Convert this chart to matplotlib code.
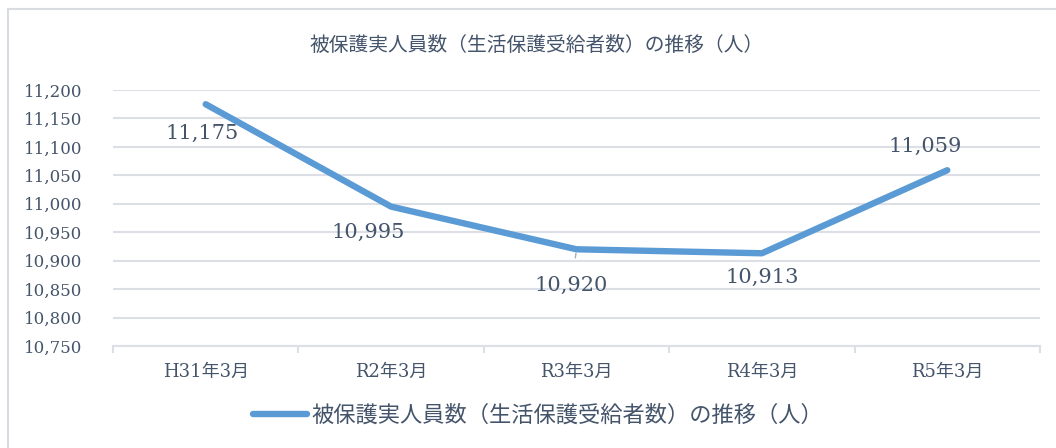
import matplotlib.pyplot as plt
from matplotlib.patches import Rectangle
from matplotlib.ticker import FuncFormatter, FixedLocator

months = ['H31年3月', 'R2年3月', 'R3年3月', 'R4年3月', 'R5年3月']
recipients = [11175, 10995, 10920, 10913, 11059]
label_offsets = [(-4, -29), (-23, -26), (-5, -36), (0, -24), (-22, 24)]
title = '被保護実人員数（生活保護受給者数）の推移（人）'

W, H = 1056, 448
line_color = '#5B9BD5'
text_color = '#44546A'
grid_color = '#DCE0E6'
serif_jp = ['DejaVu Serif', 'Noto Sans CJK JP']
sans_jp = ['Noto Sans CJK JP', 'DejaVu Sans']

fig = plt.figure(figsize=(W / 100, H / 100), dpi=100)
fig.patch.set_facecolor('white')

# chart frame (runs off the right and bottom edges)
fig.patches.append(Rectangle((8 / W, -0.1), 1.2, 1 - 9 / H + 0.1, transform=fig.transFigure,
                             fill=False, edgecolor='#D9DCE1', linewidth=1.5))

ax = fig.add_axes([113 / W, (H - 346) / H, 927 / W, 256 / H])
x = list(range(len(months)))
ax.plot(x, recipients, color=line_color, linewidth=4.6, solid_capstyle='round',
        solid_joinstyle='round', label=title, zorder=3)

ax.set_xlim(-0.5, len(months) - 0.5)
ax.set_ylim(10750, 11200)
ax.set_yticks(range(10750, 11201, 50))
ax.yaxis.set_major_formatter(FuncFormatter(lambda v, p: f'{int(v):,}'))
ax.grid(axis='y', color=grid_color, linewidth=1.5, zorder=0)
ax.set_xticks(x)
ax.set_xticklabels(months)
ax.xaxis.set_minor_locator(FixedLocator([i - 0.5 for i in range(len(months) + 1)]))
ax.tick_params(axis='x', which='major', length=0, pad=12)
ax.tick_params(axis='x', which='minor', length=5, width=1.5, color=grid_color, direction='out')
ax.tick_params(axis='y', length=0, pad=22)
for lbl in ax.get_xticklabels():
    lbl.set_family(serif_jp)
    lbl.set_fontsize(13)
    lbl.set_color(text_color)
for lbl in ax.get_yticklabels():
    lbl.set_family('DejaVu Serif')
    lbl.set_fontsize(12)
    lbl.set_color(text_color)
for side in ['left', 'right', 'top']:
    ax.spines[side].set_visible(False)
ax.spines['bottom'].set_color(grid_color)
ax.spines['bottom'].set_linewidth(1.5)

for i, (v, off) in enumerate(zip(recipients, label_offsets)):
    arrow = None
    if i == 2:
        arrow = dict(arrowstyle='-', color='#A6AEB8', linewidth=1, shrinkA=11, shrinkB=3)
    ax.annotate(f'{v:,}', (i, v), xytext=off, textcoords='offset pixels',
                ha='center', va='center', fontsize=15, family='DejaVu Serif',
                color=text_color, arrowprops=arrow, zorder=4)

fig.text(537 / W, 1 - 45 / H, title, ha='center', va='center', fontsize=14.2,
         family=sans_jp, color=text_color)

leg = fig.legend(loc='center', bbox_to_anchor=(538 / W, 1 - 415 / H), frameon=False,
                 prop={'family': sans_jp, 'size': 16}, handlelength=2.4, handletextpad=0.2)
for t in leg.get_texts():
    t.set_color(text_color)

fig.savefig('out.png', dpi=100)
